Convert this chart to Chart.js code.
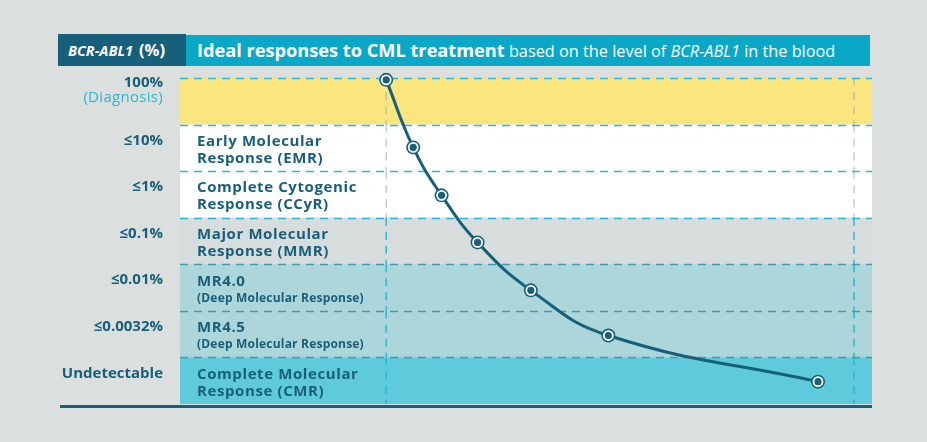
<!DOCTYPE html>
<html>
<head>
<meta charset="utf-8">
<script src="https://cdn.jsdelivr.net/npm/chart.js@4.4.1/dist/chart.umd.min.js"></script>
<style>
  body { margin: 0; background: #dbe0df; font-family: 'Open Sans', sans-serif; }
  #wrap { position: relative; width: 927px; height: 442px; overflow: hidden; }
  #chart { position: absolute; left: 0; top: 0; }
  .hdr-dark {
    position: absolute; left: 58px; top: 34px; width: 128px; height: 32px;
    background: #175f7b; color: #fff; font-weight: 700; font-size: 14.5px;
    line-height: 32px; padding-left: 10px; box-sizing: border-box; z-index: 2;
    white-space: nowrap;
  }
  .hdr-dark i { margin-right: 6px; }
  .hdr-dark span { font-size: 16.5px; }
  .hdr-cyan {
    position: absolute; left: 184px; top: 35px; width: 686px; height: 31px;
    background: #0aa8c6; color: #fff; line-height: 31px; padding-left: 13px;
    box-sizing: border-box; z-index: 1; white-space: nowrap;
  }
  .hdr-cyan b { font-size: 18.2px; }
  .hdr-cyan span { font-size: 16.3px; }
</style>
</head>
<body>
<div id="wrap">
  <canvas id="chart" width="927" height="442"></canvas>
  <div class="hdr-dark"><i>BCR-ABL1</i><span>(%)</span></div>
  <div class="hdr-cyan"><b>Ideal responses to CML treatment</b> <span>based on the level of <i>BCR-ABL1</i> in the blood</span></div>
</div>
<script>
// Response levels, top to bottom.
const thresholdLabels = ['100%', '≤10%', '≤1%', '≤0.1%', '≤0.01%', '≤0.0032%', 'Undetectable'];
const bandTitles = [
  [],
  ['Early Molecular', 'Response (EMR)'],
  ['Complete Cytogenic', 'Response (CCyR)'],
  ['Major Molecular', 'Response (MMR)'],
  ['MR4.0'],
  ['MR4.5'],
  ['Complete Molecular', 'Response (CMR)']
];
const bandSubtitles = ['', '', '', '', '(Deep Molecular Response)', '(Deep Molecular Response)', ''];
const bandColors = ['#fbe57f', '#ffffff', '#ffffff', '#d7dddc', '#acd6da', '#acd6da', '#5ecadb'];

// Patient curve: time (arbitrary units) and level (band position, 0 = top).
const timeValues = [29.8, 33.7, 37.8, 43.0, 50.7, 61.9, 92.2];
const levelValues = [0.04, 1.49, 2.52, 3.53, 4.56, 5.53, 6.52];
const timeGuides = [29.8, 97.4];

const dark = '#175f7b';
const cyanLine = '#2cb8d0';

const points = timeValues.map((t, i) => ({ x: t, y: levelValues[i] }));

const bandsPlugin = {
  id: 'bands',
  beforeDatasetsDraw(chart) {
    const { ctx, chartArea: area, scales: { x, y } } = chart;
    ctx.save();
    // band backgrounds
    bandColors.forEach((color, i) => {
      const top = y.getPixelForValue(i);
      const bottom = y.getPixelForValue(i + 1);
      ctx.fillStyle = color;
      ctx.fillRect(area.left, top, area.right - area.left, bottom - top);
    });
    // vertical guides
    ctx.lineWidth = 1.5;
    ctx.setLineDash([8, 6]);
    timeGuides.forEach(t => {
      const px = x.getPixelForValue(t);
      bandColors.forEach((color, i) => {
        ctx.strokeStyle = i < 3 ? 'rgba(150,165,168,0.55)' : cyanLine;
        ctx.beginPath();
        ctx.moveTo(px, y.getPixelForValue(i));
        ctx.lineTo(px, y.getPixelForValue(i + 1));
        ctx.stroke();
      });
    });
    // horizontal dashed boundaries
    for (let i = 0; i < bandColors.length; i++) {
      ctx.strokeStyle = i < 4 ? cyanLine : '#3d9cb4';
      const py = Math.round(y.getPixelForValue(i)) + 0.5;
      ctx.beginPath();
      ctx.moveTo(area.left, py);
      ctx.lineTo(area.right, py);
      ctx.stroke();
    }
    ctx.setLineDash([]);
    // bottom base line
    ctx.fillStyle = dark;
    ctx.fillRect(60, area.bottom + 1, area.right - 60, 3);
    // band texts
    ctx.fillStyle = dark;
    ctx.textBaseline = 'middle';
    ctx.textAlign = 'left';
    bandTitles.forEach((lines, i) => {
      const top = y.getPixelForValue(i);
      ctx.font = "700 15px 'Open Sans'";
      ctx.letterSpacing = '0.6px';
      lines.forEach((line, j) => ctx.fillText(line, area.left + 17, top + 17 + j * 17));
      if (bandSubtitles[i]) {
        ctx.font = "700 12px 'Open Sans'";
        ctx.letterSpacing = '0.2px';
        ctx.fillText(bandSubtitles[i], area.left + 17, top + 34);
      }
    });
    // diagnosis note under the first level
    ctx.textAlign = 'right';
    ctx.fillStyle = '#2cb6cf';
    ctx.font = "400 15px 'Open Sans'";
    ctx.letterSpacing = '0.3px';
    ctx.fillText('(Diagnosis)', area.left - 17, y.getPixelForValue(0.11) + 15);
    ctx.restore();
  }
};

new Chart(document.getElementById('chart'), {
  type: 'line',
  data: {
    datasets: [
      {
        data: points,
        borderColor: dark,
        borderWidth: 3,
        tension: 0.45,
        pointRadius: 4.5,
        pointBackgroundColor: dark,
        pointBorderColor: '#ffffff',
        pointBorderWidth: 1.8,
        clip: false,
        order: 1
      },
      {
        data: points,
        showLine: false,
        pointRadius: 7,
        pointBackgroundColor: dark,
        pointBorderWidth: 0,
        clip: false,
        order: 2
      }
    ]
  },
  options: {
    responsive: false,
    animation: false,
    layout: { padding: { top: 78, right: 55, bottom: 38, left: 0 } },
    plugins: { legend: { display: false }, tooltip: { enabled: false } },
    scales: {
      x: { type: 'linear', min: 0, max: 100, display: false },
      y: {
        min: 0,
        max: 7,
        reverse: true,
        grid: { display: false },
        border: { display: false },
        afterFit(scale) { scale.width = 180; },
        afterBuildTicks(scale) {
          scale.ticks = thresholdLabels.map((_, i) => ({ value: i === 0 ? 0.11 : i + 0.34 }));
        },
        ticks: {
          autoSkip: false,
          padding: 9,
          color: dark,
          font: { family: 'Open Sans', weight: '700', size: 15 },
          callback: (value, index) => thresholdLabels[index]
        }
      }
    }
  },
  plugins: [bandsPlugin]
});
</script>
</body>
</html>
